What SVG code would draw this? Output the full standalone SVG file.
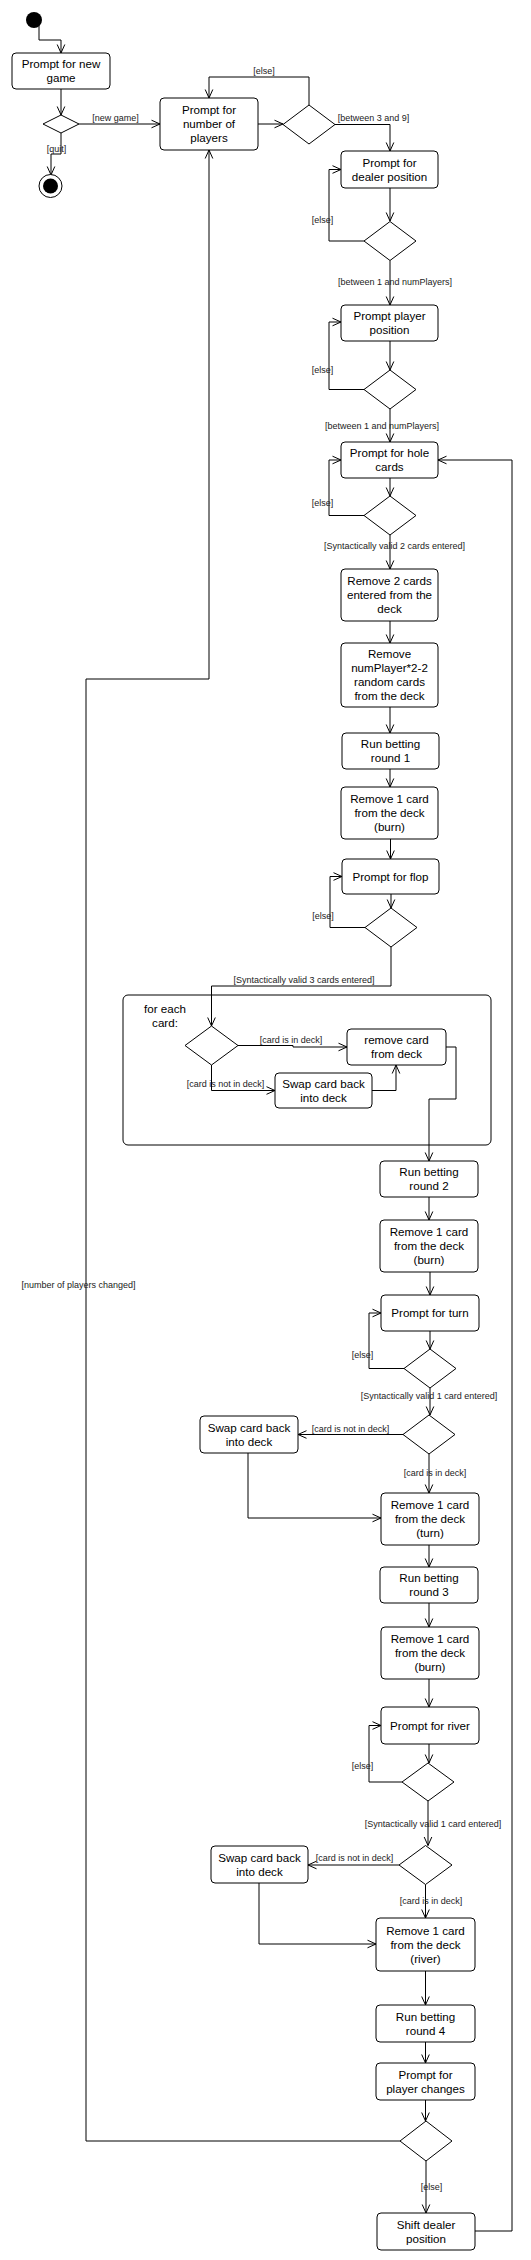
<svg xmlns="http://www.w3.org/2000/svg" width="531" height="2260" viewBox="0 0 531 2260">
<defs>
<marker id="arr" viewBox="0 0 10 10" refX="9.5" refY="5" markerWidth="10" markerHeight="10" markerUnits="userSpaceOnUse" orient="auto">
<path d="M1,1.2 L9.5,5 L1,8.8" fill="none" stroke="#000" stroke-width="1"/>
</marker>
<style>
.n{fill:#fff;stroke:#000;stroke-width:1}
.t{font-family:"Liberation Sans",Arial,sans-serif;font-size:11.6px;fill:#000;text-anchor:middle}
.l{font-family:"Liberation Sans",Arial,sans-serif;font-size:9px;fill:#222;text-anchor:middle}
.c{fill:none;stroke:#000;stroke-width:1;marker-end:url(#arr)}
.p{fill:none;stroke:#000;stroke-width:1}
</style>
</defs>
<rect width="531" height="2260" fill="#fff"/>
<g id="connectors">
<path class="c" d="M39,26 V40 H61 V53"/>
<path class="c" d="M61,89 V115"/>
<path class="c" d="M79,124 H160"/>
<path class="c" d="M61,133 V154 H51 V175"/>
<path class="c" d="M258,124 H283"/>
<path class="c" d="M309,105 V77 H209 V98"/>
<path class="c" d="M335,124.5 H390 V151"/>
<path class="c" d="M390,188 V221"/>
<path class="c" d="M364,241 H329 V169.5 H341"/>
<path class="c" d="M390,260.5 V305"/>
<path class="c" d="M390,341 V370"/>
<path class="c" d="M364,389.5 H329 V322 H341"/>
<path class="c" d="M390,409 V442"/>
<path class="c" d="M390,478 V496"/>
<path class="c" d="M364,515.5 H329 V460 H341"/>
<path class="c" d="M390,535 V569"/>
<path class="c" d="M390,621 V643"/>
<path class="c" d="M390,707 V733"/>
<path class="c" d="M390,769 V787"/>
<path class="c" d="M390.5,839 V859"/>
<path class="c" d="M391,894 V908"/>
<path class="c" d="M365,927.5 H330 V876.5 H342"/>
<path class="c" d="M391,947 V986 H211.5 V1026"/>
<path class="c" d="M238,1045.5 H293 V1047 H347"/>
<path class="c" d="M211.5,1065 V1090.5 H275"/>
<path class="c" d="M372,1090.5 H396 V1065"/>
<path class="c" d="M446,1047 H456 V1099 H429 V1161"/>
<path class="c" d="M429,1197 V1220"/>
<path class="c" d="M430,1272 V1295"/>
<path class="c" d="M430,1331 V1349"/>
<path class="c" d="M404,1368.5 H369 V1313 H381"/>
<path class="c" d="M430,1388 V1415"/>
<path class="c" d="M403,1434.5 H298"/>
<path class="c" d="M429,1454 V1493"/>
<path class="c" d="M248,1453 V1518 H381"/>
<path class="c" d="M429,1545 V1567"/>
<path class="c" d="M429,1603 V1627"/>
<path class="c" d="M429,1679 V1707"/>
<path class="c" d="M429,1744 V1763"/>
<path class="c" d="M402,1782 H369 V1725.5 H381"/>
<path class="c" d="M428,1801 V1845.5"/>
<path class="c" d="M399,1865 H308"/>
<path class="c" d="M425.5,1884.5 V1918"/>
<path class="c" d="M259,1883 V1944 H376"/>
<path class="c" d="M425.5,1971 V2005"/>
<path class="c" d="M425.5,2042 V2063"/>
<path class="c" d="M425.5,2100 V2121"/>
<path class="c" d="M400,2141 H86 V679 H209 V150"/>
<path class="c" d="M426,2161 V2213"/>
<path class="c" d="M475,2231 H512 V460 H438"/>
<text class="l" x="115.5" y="121">[new game]</text>
<text class="l" x="56.5" y="152">[quit]</text>
<text class="l" x="264" y="74">[else]</text>
<text class="l" x="373.5" y="121">[between 3 and 9]</text>
<text class="l" x="322.5" y="223">[else]</text>
<text class="l" x="395" y="285">[between 1 and numPlayers]</text>
<text class="l" x="322.5" y="373">[else]</text>
<text class="l" x="382" y="429">[between 1 and numPlayers]</text>
<text class="l" x="322.5" y="506">[else]</text>
<text class="l" x="394.5" y="549">[Syntactically valid 2 cards entered]</text>
<text class="l" x="323" y="919">[else]</text>
<text class="l" x="304" y="983">[Syntactically valid 3 cards entered]</text>
<text class="l" x="291" y="1043">[card is in deck]</text>
<text class="l" x="225.5" y="1087">[card is not in deck]</text>
<text class="l" x="78.5" y="1288">[number of players changed]</text>
<text class="l" x="362.5" y="1358">[else]</text>
<text class="l" x="429" y="1399">[Syntactically valid 1 card entered]</text>
<text class="l" x="350.5" y="1432">[card is not in deck]</text>
<text class="l" x="435" y="1476">[card is in deck]</text>
<text class="l" x="362.5" y="1769">[else]</text>
<text class="l" x="433" y="1827">[Syntactically valid 1 card entered]</text>
<text class="l" x="354.5" y="1861">[card is not in deck]</text>
<text class="l" x="431" y="1904">[card is in deck]</text>
<text class="l" x="431.5" y="2190">[else]</text>
</g>
<g id="start"><circle cx="34" cy="20" r="8" fill="#000"/></g>
<g id="newgame"><rect class="n" x="12" y="53" width="98" height="36" rx="4"/><text class="t" x="61"><tspan x="61" y="68">Prompt for new</tspan><tspan x="61" y="82">game</tspan></text></g>
<g id="d1"><polygon class="n" points="43,124 61,115 79,124 61,133"/></g>
<g id="end"><circle cx="50.5" cy="186" r="11.5" class="n"/><circle cx="50.5" cy="186" r="7.5" fill="#000"/></g>
<g id="players"><rect class="n" x="160" y="98" width="98" height="52" rx="4"/><text class="t"><tspan x="209" y="114">Prompt for</tspan><tspan x="209" y="128">number of</tspan><tspan x="209" y="142">players</tspan></text></g>
<g id="d2"><polygon class="n" points="283,124.5 309,105 335,124.5 309,144"/></g>
<g id="dealer"><rect class="n" x="341" y="151" width="97" height="37" rx="4"/><text class="t"><tspan x="389.5" y="166.5">Prompt for</tspan><tspan x="389.5" y="180.5">dealer position</tspan></text></g>
<g id="d3"><polygon class="n" points="364,241 390,221.5 416,241 390,260.5"/></g>
<g id="playerpos"><rect class="n" x="341" y="305" width="97" height="36" rx="4"/><text class="t"><tspan x="389.5" y="320">Prompt player</tspan><tspan x="389.5" y="334">position</tspan></text></g>
<g id="d4"><polygon class="n" points="364,389.5 390,370 416,389.5 390,409"/></g>
<g id="hole"><rect class="n" x="341" y="442" width="97" height="36" rx="4"/><text class="t"><tspan x="389.5" y="457">Prompt for hole</tspan><tspan x="389.5" y="471">cards</tspan></text></g>
<g id="d5"><polygon class="n" points="364,515.5 390,496 416,515.5 390,535"/></g>
<g id="remove2"><rect class="n" x="341" y="569" width="97" height="52" rx="4"/><text class="t"><tspan x="389.5" y="585">Remove 2 cards</tspan><tspan x="389.5" y="599">entered from the</tspan><tspan x="389.5" y="613">deck</tspan></text></g>
<g id="removeN"><rect class="n" x="341" y="643" width="97" height="64" rx="4"/><text class="t"><tspan x="389.5" y="658">Remove</tspan><tspan x="389.5" y="672">numPlayer*2-2</tspan><tspan x="389.5" y="686">random cards</tspan><tspan x="389.5" y="700">from the deck</tspan></text></g>
<g id="bet1"><rect class="n" x="342" y="733" width="97" height="36" rx="4"/><text class="t"><tspan x="390.5" y="748">Run betting</tspan><tspan x="390.5" y="762">round 1</tspan></text></g>
<g id="burn1"><rect class="n" x="341" y="787" width="97" height="52" rx="4"/><text class="t"><tspan x="389.5" y="803">Remove 1 card</tspan><tspan x="389.5" y="817">from the deck</tspan><tspan x="389.5" y="831">(burn)</tspan></text></g>
<g id="flop"><rect class="n" x="342" y="859" width="97" height="35" rx="4"/><text class="t" x="390.5" y="880.5">Prompt for flop</text></g>
<g id="d6"><polygon class="n" points="365,927.5 391,908 417,927.5 391,947"/></g>
<g id="foreach"><rect x="123" y="995" width="368" height="150" rx="5" fill="none" stroke="#000"/><text class="t"><tspan x="165" y="1013">for each</tspan><tspan x="165" y="1027">card:</tspan></text></g>
<g id="d7"><polygon class="n" points="185,1045.5 211.5,1026 238,1045.5 211.5,1065"/></g>
<g id="removecard"><rect class="n" x="347" y="1029" width="99" height="36" rx="4"/><text class="t"><tspan x="396.5" y="1044">remove card</tspan><tspan x="396.5" y="1058">from deck</tspan></text></g>
<g id="swap1"><rect class="n" x="275" y="1073" width="97" height="35" rx="4"/><text class="t"><tspan x="323.5" y="1087.5">Swap card back</tspan><tspan x="323.5" y="1101.5">into deck</tspan></text></g>
<g id="bet2"><rect class="n" x="380" y="1161" width="98" height="36" rx="4"/><text class="t"><tspan x="429" y="1176">Run betting</tspan><tspan x="429" y="1190">round 2</tspan></text></g>
<g id="burn2"><rect class="n" x="380" y="1220" width="98" height="52" rx="4"/><text class="t"><tspan x="429" y="1236">Remove 1 card</tspan><tspan x="429" y="1250">from the deck</tspan><tspan x="429" y="1264">(burn)</tspan></text></g>
<g id="turn"><rect class="n" x="381" y="1295" width="98" height="36" rx="4"/><text class="t" x="430" y="1317">Prompt for turn</text></g>
<g id="d8"><polygon class="n" points="404,1368.5 430,1349 456,1368.5 430,1388"/></g>
<g id="d9"><polygon class="n" points="403,1434.5 429,1415 455,1434.5 429,1454"/></g>
<g id="swap2"><rect class="n" x="200" y="1416" width="98" height="37" rx="4"/><text class="t"><tspan x="249" y="1431.5">Swap card back</tspan><tspan x="249" y="1445.5">into deck</tspan></text></g>
<g id="turncard"><rect class="n" x="381" y="1493" width="98" height="52" rx="4"/><text class="t"><tspan x="430" y="1509">Remove 1 card</tspan><tspan x="430" y="1523">from the deck</tspan><tspan x="430" y="1537">(turn)</tspan></text></g>
<g id="bet3"><rect class="n" x="380" y="1567" width="98" height="36" rx="4"/><text class="t"><tspan x="429" y="1582">Run betting</tspan><tspan x="429" y="1596">round 3</tspan></text></g>
<g id="burn3"><rect class="n" x="381" y="1627" width="98" height="52" rx="4"/><text class="t"><tspan x="430" y="1643">Remove 1 card</tspan><tspan x="430" y="1657">from the deck</tspan><tspan x="430" y="1671">(burn)</tspan></text></g>
<g id="river"><rect class="n" x="381" y="1707" width="98" height="37" rx="4"/><text class="t" x="430" y="1729.5">Prompt for river</text></g>
<g id="d10"><polygon class="n" points="402,1782 428,1763 454,1782 428,1801"/></g>
<g id="d11"><polygon class="n" points="399,1865 425.5,1845.5 452,1865 425.5,1884.5"/></g>
<g id="swap3"><rect class="n" x="211" y="1846" width="97" height="37" rx="4"/><text class="t"><tspan x="259.5" y="1861.5">Swap card back</tspan><tspan x="259.5" y="1875.5">into deck</tspan></text></g>
<g id="rivercard"><rect class="n" x="376" y="1918" width="99" height="53" rx="4"/><text class="t"><tspan x="425.5" y="1934.5">Remove 1 card</tspan><tspan x="425.5" y="1948.5">from the deck</tspan><tspan x="425.5" y="1962.5">(river)</tspan></text></g>
<g id="bet4"><rect class="n" x="376" y="2005" width="99" height="37" rx="4"/><text class="t"><tspan x="425.5" y="2020.5">Run betting</tspan><tspan x="425.5" y="2034.5">round 4</tspan></text></g>
<g id="changes"><rect class="n" x="376" y="2063" width="99" height="37" rx="4"/><text class="t"><tspan x="425.5" y="2078.5">Prompt for</tspan><tspan x="425.5" y="2092.5">player changes</tspan></text></g>
<g id="d12"><polygon class="n" points="400,2141 426,2121 452,2141 426,2161"/></g>
<g id="shift"><rect class="n" x="377" y="2213" width="98" height="37" rx="4"/><text class="t"><tspan x="426" y="2228.5">Shift dealer</tspan><tspan x="426" y="2242.5">position</tspan></text></g>
</svg>
